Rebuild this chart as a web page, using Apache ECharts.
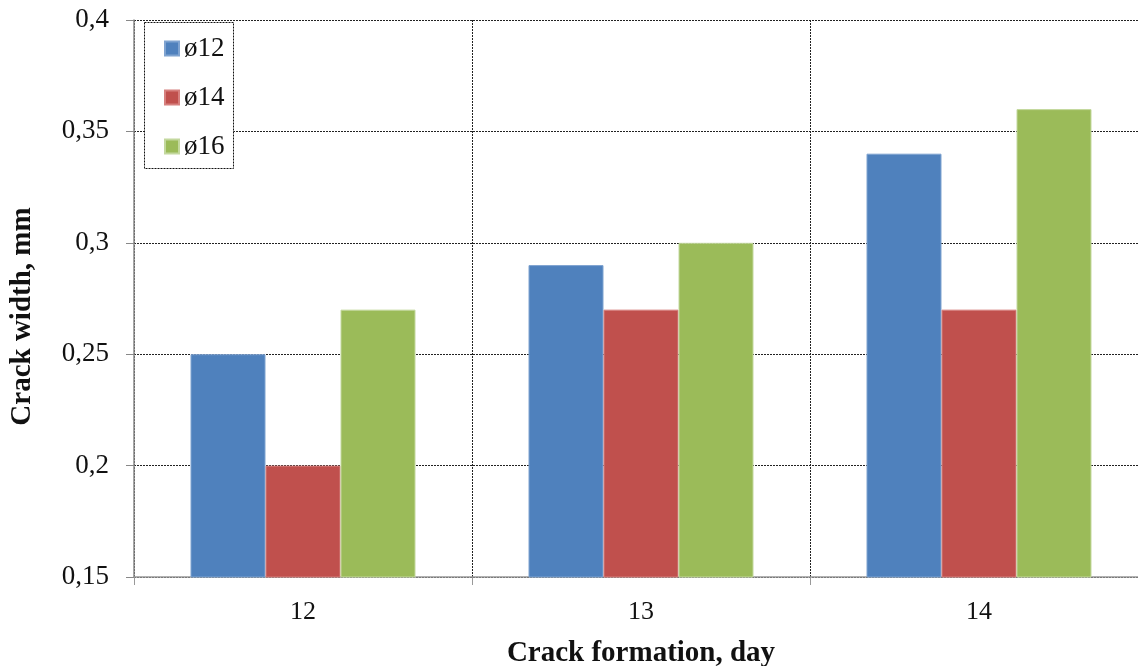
<!DOCTYPE html>
<html>
<head>
<meta charset="utf-8">
<script src="https://cdn.jsdelivr.net/npm/echarts@6/dist/echarts.min.js"></script>
<style>
  html, body { margin: 0; padding: 0; background: #fff; }
  #chart { width: 1138px; height: 666px; }
</style>
</head>
<body>
<div id="chart"></div>
<script>
// Crack width by day of crack formation, for three bar diameters
const days = ['12', '13', '14'];
const d12 = [0.25, 0.29, 0.34];
const d14 = [0.20, 0.27, 0.27];
const d16 = [0.27, 0.30, 0.36];
const seriesNames = ['ø12', 'ø14', 'ø16'];
const colors = ['#4F81BD', '#C0504D', '#9BBB59'];
const edgeColors = ['#7FA3D0', '#D6807E', '#C3D89E'];

const serif = '"Liberation Serif", "DejaVu Serif", serif';

const chart = echarts.init(document.getElementById('chart'), null, { renderer: 'canvas' });

function barSeries(name, data, i) {
  return {
    name: name,
    type: 'bar',
    data: data,
    barWidth: 75,
    barGap: '0%',
    itemStyle: { color: colors[i], borderColor: edgeColors[i], borderWidth: 1 }
  };
}

chart.setOption({
  animation: false,
  backgroundColor: '#fff',
  // the plot runs a little past the right edge of the canvas
  grid: { left: 134, top: 20, width: 1014, bottom: 89, containLabel: false, outerBoundsMode: 'none' },
  legend: {
    orient: 'vertical',
    left: 159,
    top: 30,
    icon: 'rect',
    itemWidth: 14,
    itemHeight: 14,
    itemGap: 22,
    textStyle: { fontFamily: serif, fontSize: 27, lineHeight: 26, color: '#111' },
    data: seriesNames
  },
  graphic: [{
    type: 'rect',
    shape: { x: 144.5, y: 22.5, width: 89, height: 146 },
    style: { fill: '#fff', stroke: '#111', lineWidth: 1, lineDash: [2, 1] },
    z: 3
  }],
  xAxis: {
    type: 'category',
    data: days,
    name: 'Crack formation, day',
    nameLocation: 'middle',
    nameGap: 62,
    nameTextStyle: { fontFamily: serif, fontSize: 29, fontWeight: 'bold', color: '#111' },
    axisLine: { lineStyle: { color: '#999', width: 1.5 } },
    axisTick: { show: true, alignWithLabel: false, length: 8, lineStyle: { color: '#999' } },
    axisLabel: { fontFamily: serif, fontSize: 26, color: '#111', margin: 22 },
    splitLine: { show: true, lineStyle: { color: '#222', type: [2, 1], width: 1 } }
  },
  yAxis: {
    type: 'value',
    min: 0.15,
    max: 0.4,
    interval: 0.05,
    name: 'Crack width, mm',
    nameLocation: 'middle',
    nameGap: 97,
    nameTextStyle: {
      fontFamily: serif, fontSize: 29, fontWeight: 'bold', color: '#111',
      padding: [0, 36, 0, 0]
    },
    axisLine: { show: true, lineStyle: { color: '#888', width: 1.5 } },
    axisTick: { show: true, length: 8, lineStyle: { color: '#888' } },
    axisLabel: {
      fontFamily: serif, fontSize: 27, color: '#111', margin: 25,
      formatter: v => String(Math.round(v * 100) / 100).replace('.', ',')
    },
    splitLine: { show: true, lineStyle: { color: '#222', type: [2, 1], width: 1 } }
  },
  series: [
    barSeries(seriesNames[0], d12, 0),
    barSeries(seriesNames[1], d14, 1),
    barSeries(seriesNames[2], d16, 2)
  ]
});
</script>
</body>
</html>
